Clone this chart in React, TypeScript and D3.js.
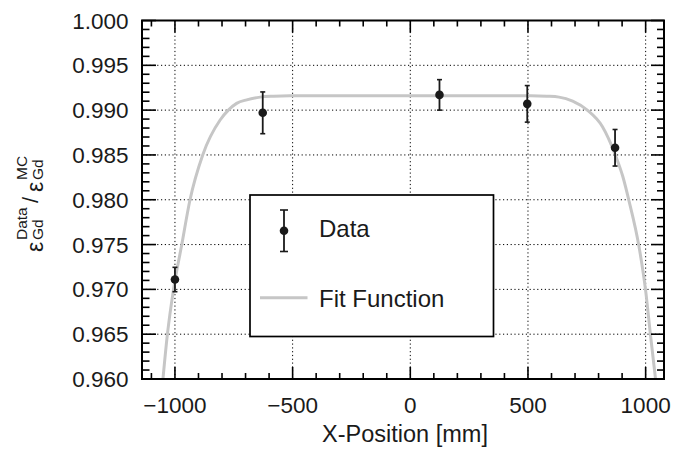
import React from "react";
import * as d3 from "d3";

// ---- data ----
const dataX = [-1000, -627, 124, 497, 870];
const dataY = [0.9711, 0.9897, 0.9917, 0.9907, 0.9858];
const dataErr = [0.00136, 0.00233, 0.0017, 0.00204, 0.00204];

const fitX = [-1051, -1032, -1006, -971, -936, -882, -808, -773, -738, -695, -638, -580, -512, 0, 512, 580, 632, 690, 752, 816, 872, 903, 929, 971, 1000, 1021, 1042];
const fitY = [0.96, 0.965, 0.97, 0.975, 0.98, 0.985, 0.9889, 0.99, 0.99075, 0.99115, 0.99145, 0.99155, 0.9916, 0.9916, 0.9916, 0.99155, 0.99145, 0.9910, 0.99, 0.98817, 0.98494, 0.98259, 0.97991, 0.97489, 0.96986, 0.9648, 0.96];

const xTicks = [-1000, -500, 0, 500, 1000];
const xTickLabels = ["\u22121000", "\u2212500", "0", "500", "1000"];
const yTicks = [0.96, 0.965, 0.97, 0.975, 0.98, 0.985, 0.99, 0.995, 1.0];

const W = 699, H = 449;
const L = 142, R = 664, T = 20.5, B = 379;

export default function App() {
  const x = d3.scaleLinear().domain([-1140, 1078]).range([L, R]);
  const y = d3.scaleLinear().domain([0.96, 1.0]).range([B, T]);

  const xMinor = d3.range(-1100, 1078, 100).filter((v) => v % 500 !== 0);
  const yMinor = d3.range(0, 41).map((i) => 0.96 + i * 0.001).filter((_, i) => i % 5 !== 0);

  const fitPts = fitX.map((v, i) => [v, fitY[i]] as [number, number]);
  const line = d3
    .line<[number, number]>()
    .x((d) => x(d[0]))
    .y((d) => y(d[1]))
    .curve(d3.curveMonotoneX);

  const font = "'Liberation Sans', Arial, Helvetica, sans-serif";
  const ink = "#1a1a1a";

  return (
    <svg
      width={W}
      height={H}
      style={{ position: "absolute", left: 0, top: 0, background: "#fff" }}
      fontFamily={font}
    >
      <defs>
        <clipPath id="plotClip">
          <rect x={L} y={T} width={R - L} height={B - T} />
        </clipPath>
      </defs>
      <rect x={0} y={0} width={W} height={H} fill="#fff" />

      {/* grid */}
      <g stroke="#000" strokeWidth={1} strokeDasharray="1.2,2.6">
        {xTicks.map((v) => (
          <line key={"gx" + v} x1={x(v)} x2={x(v)} y1={T} y2={B} />
        ))}
        {yTicks.slice(1, -1).map((v) => (
          <line key={"gy" + v} x1={L} x2={R} y1={y(v)} y2={y(v)} />
        ))}
      </g>

      {/* fit function */}
      <path
        d={line(fitPts) || ""}
        fill="none"
        stroke="#c6c6c6"
        strokeWidth={3}
        clipPath="url(#plotClip)"
      />

      {/* data */}
      <g stroke={ink} fill={ink}>
        {dataX.map((v, i) => {
          const cx = x(v);
          const y0 = y(dataY[i] - dataErr[i]);
          const y1 = y(dataY[i] + dataErr[i]);
          return (
            <g key={"d" + i}>
              <line x1={cx} x2={cx} y1={y0} y2={y1} strokeWidth={1.8} />
              <line x1={cx - 2.5} x2={cx + 2.5} y1={y0} y2={y0} strokeWidth={1.6} />
              <line x1={cx - 2.5} x2={cx + 2.5} y1={y1} y2={y1} strokeWidth={1.6} />
              <circle cx={cx} cy={y(dataY[i])} r={4.3} stroke="none" />
            </g>
          );
        })}
      </g>

      {/* ticks */}
      <g stroke="#000" strokeWidth={1.6}>
        {xTicks.map((v) => (
          <g key={"xt" + v}>
            <line x1={x(v)} x2={x(v)} y1={B} y2={B - 12} />
            <line x1={x(v)} x2={x(v)} y1={T} y2={T + 12} />
          </g>
        ))}
        {xMinor.map((v) => (
          <g key={"xm" + v}>
            <line x1={x(v)} x2={x(v)} y1={B} y2={B - 6} />
            <line x1={x(v)} x2={x(v)} y1={T} y2={T + 6} />
          </g>
        ))}
        {yTicks.map((v) => (
          <g key={"yt" + v}>
            <line x1={L} x2={L + 14} y1={y(v)} y2={y(v)} />
            <line x1={R} x2={R - 13} y1={y(v)} y2={y(v)} />
          </g>
        ))}
        {yMinor.map((v) => (
          <g key={"ym" + v.toFixed(3)}>
            <line x1={L} x2={L + 7.5} y1={y(v)} y2={y(v)} />
            <line x1={R} x2={R - 7} y1={y(v)} y2={y(v)} />
          </g>
        ))}
      </g>

      {/* frame */}
      <rect x={L} y={T} width={R - L} height={B - T} fill="none" stroke="#000" strokeWidth={2} />

      {/* tick labels */}
      <g fill={ink} fontSize={22.5}>
        {yTicks.map((v) => (
          <text key={"yl" + v} x={128.5} y={y(v)} dy="0.36em" textAnchor="end">
            {v.toFixed(3)}
          </text>
        ))}
        {xTicks.map((v, i) => (
          <text key={"xl" + v} x={x(v)} y={413} textAnchor="middle">
            {xTickLabels[i]}
          </text>
        ))}
      </g>

      {/* axis titles */}
      <text x={405} y={442} textAnchor="middle" fontSize={23.5} fill={ink}>
        X-Position [mm]
      </text>
      <g transform="translate(43,201) rotate(-90)" fill={ink}>
        <text x={-51} y={0} fontSize={23}>ε</text>
        <text x={-39} y={0} fontSize={15.5}>Gd</text>
        <text x={-39} y={-16} fontSize={15.5}>Data</text>
        <text x={1} y={-5} fontSize={22} textAnchor="middle">/</text>
        <text x={9} y={0} fontSize={23}>ε</text>
        <text x={21} y={0} fontSize={15.5}>Gd</text>
        <text x={21} y={-16} fontSize={15.5}>MC</text>
      </g>

      {/* legend */}
      <rect x={250} y={195} width={243.5} height={141.5} fill="#fff" stroke="#000" strokeWidth={1.7} />
      <g stroke={ink} fill={ink}>
        <line x1={284} x2={284} y1={210} y2={251.5} strokeWidth={1.8} />
        <line x1={280} x2={288} y1={210} y2={210} strokeWidth={1.6} />
        <line x1={280} x2={288} y1={251.5} y2={251.5} strokeWidth={1.6} />
        <circle cx={284} cy={230.7} r={4.3} stroke="none" />
      </g>
      <line x1={260} x2={307.5} y1={297.7} y2={297.7} stroke="#c6c6c6" strokeWidth={3} />
      <g fill={ink} fontSize={24}>
        <text x={319} y={236.5}>Data</text>
        <text x={319} y={306.5}>Fit Function</text>
      </g>
    </svg>
  );
}
